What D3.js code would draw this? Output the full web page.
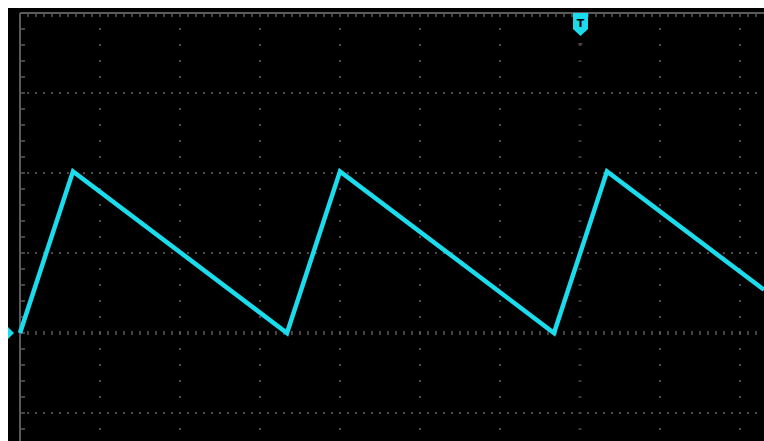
<!DOCTYPE html>
<html>
<head>
<meta charset="utf-8">
<script src="https://cdn.jsdelivr.net/npm/d3@7"></script>
<style>
  html, body { margin: 0; padding: 0; background: #ffffff; }
  svg { display: block; }
</style>
</head>
<body>
<svg id="chart" width="764" height="441"></svg>
<script>
// ---- data (in screen divisions) ----
const timeDiv = [0, 0.6625, 3.3375, 4.0, 6.675, 7.3375, 9.3];
const voltDiv = [0, 2.02, 0, 2.02, 0, 2.02, 0.54];
const gridX = [1, 2, 3, 4, 5, 6, 8, 9];      // vertical dotted grid lines
const gridY = [-1, 1, 2, 3];                 // horizontal dotted grid lines
const centerX = 7;                           // centre vertical axis (trigger position)
const centerY = 0;                           // centre horizontal axis (trigger level)
const triggerLabel = "T";

const svg = d3.select("#chart");
const W = 764, H = 441;

const x = d3.scaleLinear().domain([0, 9.3]).range([20, 764]);
const y = d3.scaleLinear().domain([-1.35, 4]).range([441, 13]);

// screen background
svg.append("rect").attr("x", 8).attr("y", 8).attr("width", W - 8).attr("height", H - 8).attr("fill", "#000");

const g = svg.append("g");
const dotCol = "#4a4a4a";

// horizontal dotted grid lines
gridY.forEach(v => {
  const xs = d3.range(0.1, 9.3, 0.1);
  g.selectAll(null).data(xs).enter().append("rect")
    .attr("x", d => x(d) - 1).attr("y", y(v) - 1)
    .attr("width", 2).attr("height", 2).attr("fill", dotCol);
});
// vertical dotted grid lines
gridX.forEach(v => {
  const ys = d3.range(-1.4, 4, 0.2);
  g.selectAll(null).data(ys).enter().append("rect")
    .attr("x", x(v) - 1).attr("y", d => y(d) - 1)
    .attr("width", 2).attr("height", 2).attr("fill", dotCol);
});
// centre horizontal axis with small ticks
g.selectAll(null).data(d3.range(0.1, 9.3, 0.1)).enter().append("rect")
  .attr("x", d => x(d) - 0.75).attr("y", y(centerY) - 2)
  .attr("width", 1.5).attr("height", 4).attr("fill", "#5a5a5a");
// centre vertical axis with small ticks
g.selectAll(null).data(d3.range(-1.4, 4, 0.2)).enter().append("rect")
  .attr("x", x(centerX) - 1.5).attr("y", d => y(d) - 0.75)
  .attr("width", 3).attr("height", 1.5).attr("fill", "#4a4a4a");

// borders (left and top) with ticks
const bCol = "#5a5a5a";
g.append("line").attr("x1", x(0)).attr("x2", x(0)).attr("y1", y(4)).attr("y2", H)
  .attr("stroke", bCol).attr("stroke-width", 2);
g.append("line").attr("x1", x(0)).attr("x2", W).attr("y1", y(4)).attr("y2", y(4))
  .attr("stroke", bCol).attr("stroke-width", 2);
g.selectAll(null).data(d3.range(0.1, 9.3, 0.1)).enter().append("line")
  .attr("x1", d => x(d)).attr("x2", d => x(d)).attr("y1", y(4)).attr("y2", y(4) + 4)
  .attr("stroke", bCol).attr("stroke-width", 1.5);
g.selectAll(null).data(d3.range(-1.2, 4, 0.2)).enter().append("line")
  .attr("x1", x(0)).attr("x2", x(0) + 5).attr("y1", d => y(d)).attr("y2", d => y(d))
  .attr("stroke", bCol).attr("stroke-width", 1.5);

// waveform
const pts = timeDiv.map((t, i) => [t, voltDiv[i]]);
const line = d3.line().x(d => x(d[0])).y(d => y(d[1]));
svg.append("path").datum(pts).attr("d", line)
  .attr("fill", "none").attr("stroke", "#1adcec").attr("stroke-width", 4.5)
  .attr("stroke-linejoin", "miter");

// level marker on the left
const ly = y(centerY);
svg.append("path")
  .attr("d", `M8,${ly - 6} L14,${ly} L8,${ly + 6} Z`)
  .attr("fill", "#1adcec");

// trigger marker at top
const tx = x(centerX) + 0.5, ty = y(4);
svg.append("path")
  .attr("d", `M${tx - 7.5},${ty} L${tx + 7.5},${ty} L${tx + 7.5},${ty + 16} L${tx},${ty + 23} L${tx - 7.5},${ty + 16} Z`)
  .attr("fill", "#1adcec");
svg.append("text").attr("x", tx).attr("y", ty + 13.5)
  .attr("text-anchor", "middle").attr("font-family", "DejaVu Sans, sans-serif")
  .attr("font-weight", "bold").attr("font-size", 11).attr("fill", "#000")
  .text(triggerLabel);
svg.append("rect").attr("x", tx - 2).attr("y", ty + 30).attr("width", 4).attr("height", 1.5).attr("fill", "#6a3a3a");
</script>
</body>
</html>
